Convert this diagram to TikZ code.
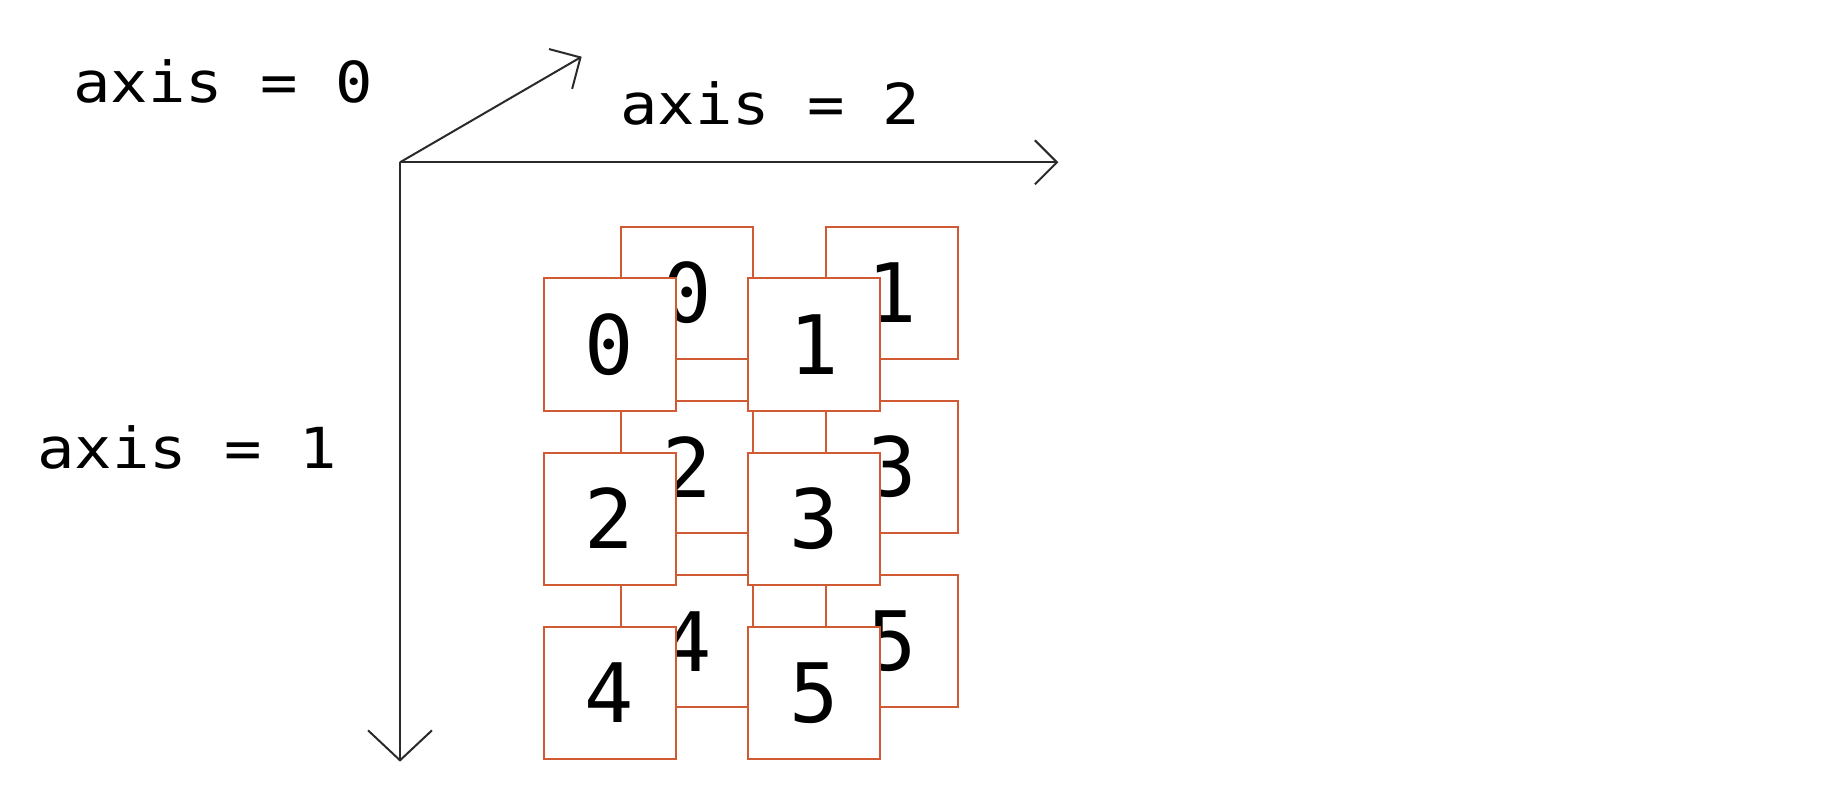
\documentclass[tikz,border=0pt]{standalone}
\usepackage{fontspec}
\usetikzlibrary{arrows.meta}
\newfontfamily\monofam{DejaVu Sans Mono}
\newfontfamily\monowide[FakeStretch=1.1]{DejaVu Sans Mono}
\definecolor{boxc}{HTML}{CF5A33}
\definecolor{axc}{HTML}{2A2A2A}
\tikzset{
  cell/.style={draw=boxc, line width=2pt, fill=white, minimum size=132pt, inner sep=0pt,
    font=\monofam\fontsize{82}{90}\selectfont},
  axlabel/.style={anchor=base west, inner sep=0pt, font=\monowide\fontsize{56.5}{62}\selectfont},
  axline/.style={draw=axc, line width=2pt}
}
\begin{document}
\begin{tikzpicture}[x=1pt,y=-1pt]
\useasboundingbox (0,0) rectangle (1831,799);
% axes
\coordinate (O) at (400,162.3);
\coordinate (A0) at (581.7,56.7);
\coordinate (A2) at (1058.3,162.3);
\coordinate (A1) at (400,761.7);
\draw[axline, -{Straight Barb[length=23pt,width=46pt,line width=2pt]}] (O) -- (A0);
\draw[axline, -{Straight Barb[length=22pt,width=44pt,line width=2pt]}] (O) -- (A2);
\draw[axline, -{Straight Barb[length=30pt,width=64pt,line width=2pt]}] (O) -- (A1);
% labels
\node[axlabel] (l0) at (73,102.7) {axis = 0};
\node[axlabel] (l2) at (620,125) {axis = 2};
\node[axlabel] (l1) at (37,468.3) {axis = 1};
% back layer
\node[cell] (b0) at (686.7,293) {0};
\node[cell] (b1) at (891.7,293) {1};
\node[cell] (b2) at (686.7,467) {2};
\node[cell] (b3) at (891.7,467) {3};
\node[cell] (b4) at (686.7,641.3) {4};
\node[cell] (b5) at (891.7,641.3) {5};
% front layer
\node[cell] (f0) at (609.5,344.5) {0};
\node[cell] (f1) at (814.3,344.5) {1};
\node[cell] (f2) at (609.5,518.5) {2};
\node[cell] (f3) at (814.3,518.5) {3};
\node[cell] (f4) at (609.5,693) {4};
\node[cell] (f5) at (814.3,693) {5};
\end{tikzpicture}
\end{document}
